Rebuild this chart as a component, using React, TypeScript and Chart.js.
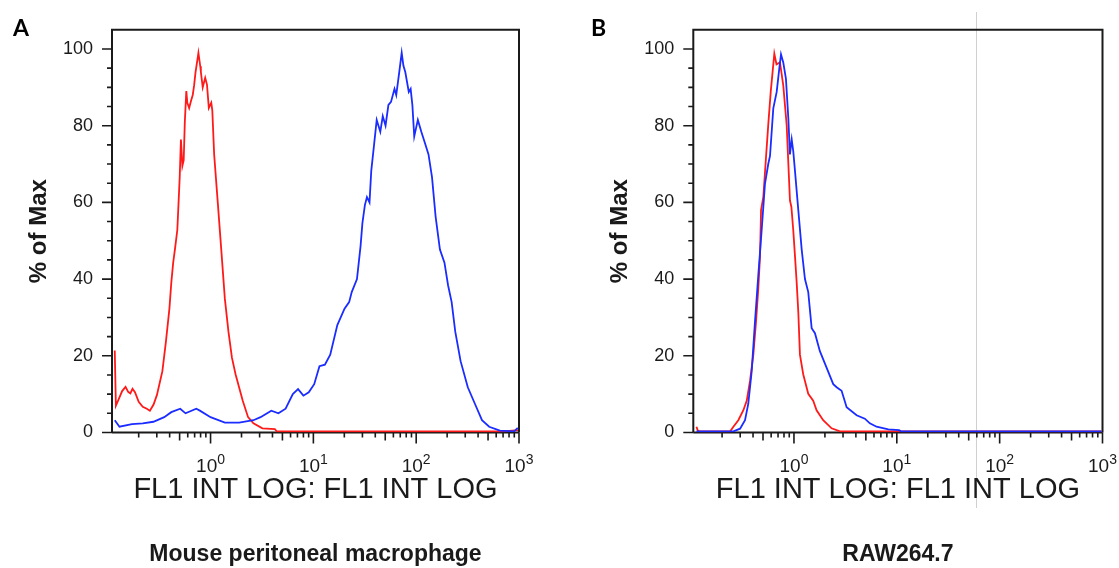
import React, { useEffect, useRef } from "react";
import { Chart, registerables } from "chart.js";

Chart.register(...registerables);

// ---------- Data (FL1 intensity, % of max) ----------
// Panel A – Mouse peritoneal macrophage
const redIntensityA = [0.117, 0.120, 0.127, 0.138, 0.149, 0.158, 0.166, 0.174, 0.184, 0.200, 0.219, 0.240, 0.257, 0.279, 0.301, 0.340, 0.368, 0.398, 0.415, 0.433, 0.450, 0.475, 0.488, 0.501, 0.515, 0.532, 0.548, 0.562, 0.581, 0.594, 0.619, 0.646, 0.671, 0.692, 0.714, 0.762, 0.794, 0.805, 0.839, 0.887, 0.923, 0.962, 1.016, 1.040, 1.084, 1.175, 1.271, 1.377, 1.493, 1.614, 1.750, 2.056, 2.317, 2.612, 3.192, 4.217, 4.395, 708, 977];
const redPercentA = [21.4, 7.0, 8.5, 10.8, 11.9, 10.6, 10.2, 11.4, 10.5, 8.0, 6.7, 6.2, 5.7, 7.3, 9.8, 16.0, 23.7, 32.3, 39.0, 44.3, 47.7, 52.8, 59.7, 66.5, 76.4, 69.5, 71.0, 81.0, 89.0, 86.0, 84.6, 86.5, 88.0, 90.5, 93.9, 99.0, 95.5, 94.0, 90.0, 92.5, 90.7, 84.6, 86.0, 84.0, 72.5, 60.0, 47.7, 34.9, 26.3, 19.5, 15.2, 8.3, 4.0, 2.4, 1.1, 0.9, 0.3, 0.3, 0.6];

const blueIntensityA = [0.117, 0.130, 0.172, 0.219, 0.278, 0.354, 0.415, 0.507, 0.571, 0.726, 0.787, 1.0, 1.377, 1.897, 2.612, 3.062, 3.899, 4.571, 5.370, 6.310, 7.096, 7.998, 9.016, 10.19, 11.46, 12.94, 14.59, 17.10, 20.09, 22.28, 23.61, 26.55, 28.77, 29.99, 31.70, 33.19, 35.16, 36.56, 38.99, 41.30, 44.77, 47.32, 50.35, 53.70, 56.89, 61.52, 63.97, 68.39, 72.28, 75.16, 78.34, 84.72, 88.31, 91.83, 95.72, 103.8, 112.2, 121.6, 131.8, 142.6, 154.5, 170.2, 188.4, 204.2, 221.3, 239.9, 270.4, 317.7, 372.4, 436.5, 512.9, 651.6, 897.5, 972.7];
const bluePercentA = [3.2, 1.5, 2.2, 2.4, 2.8, 4.0, 5.3, 6.2, 5.0, 6.2, 5.7, 4.0, 2.6, 2.6, 3.2, 4.0, 5.7, 5.0, 6.2, 10.0, 11.3, 9.6, 10.5, 12.6, 17.3, 17.7, 20.3, 28.0, 32.3, 34.0, 36.6, 40.0, 48.6, 54.6, 59.3, 61.4, 60.0, 68.2, 75.2, 81.5, 78.4, 82.5, 80.0, 85.4, 86.2, 89.6, 88.0, 93.9, 99.0, 95.6, 94.0, 88.8, 89.6, 85.4, 77.2, 81.5, 78.4, 75.5, 72.5, 66.5, 56.3, 47.7, 44.3, 38.4, 34.0, 26.3, 18.6, 11.8, 7.5, 3.2, 1.5, 0.5, 0.3, 1.2];

// Panel B – RAW264.7
const redIntensityB = [0.1127, 0.1161, 0.1205, 0.2399, 0.2576, 0.2877, 0.3221, 0.3475, 0.3741, 0.4027, 0.4276, 0.4498, 0.4677, 0.4786, 0.5035, 0.5346, 0.5623, 0.5943, 0.6442, 0.6761, 0.7311, 0.7870, 0.8492, 0.9141, 0.9441, 0.9840, 1.023, 1.062, 1.102, 1.143, 1.230, 1.377, 1.538, 1.660, 1.923, 2.323, 2.799, 977];
const redPercentB = [1.5, 0.5, 0.3, 0.3, 1.5, 3.2, 5.8, 8.3, 13.5, 20.3, 28.9, 37.4, 46.0, 58.0, 61.4, 71.7, 80.2, 88.8, 98.8, 96.0, 96.5, 90.5, 80.2, 60.5, 58.8, 52.8, 46.0, 39.2, 31.4, 20.3, 15.2, 10.1, 8.3, 5.8, 3.2, 1.1, 0.3, 0.3];

const blueIntensityB = [0.1127, 0.2576, 0.2992, 0.3342, 0.3597, 0.3882, 0.4178, 0.4498, 0.4853, 0.5224, 0.5623, 0.5848, 0.6295, 0.6792, 0.7194, 0.7482, 0.7870, 0.8356, 0.8810, 0.9141, 0.9506, 0.9840, 1.023, 1.102, 1.189, 1.279, 1.377, 1.486, 1.600, 1.786, 2.075, 2.410, 2.600, 2.904, 3.251, 4.064, 4.887, 5.470, 6.353, 8.279, 10.52, 10.96, 977];
const bluePercentB = [0.3, 0.3, 1.0, 3.2, 7.5, 16.0, 28.9, 40.9, 52.8, 64.8, 70.0, 72.1, 84.5, 88.8, 94.8, 98.6, 96.5, 92.2, 82.0, 72.5, 76.4, 73.4, 68.2, 58.0, 47.7, 40.0, 36.6, 27.2, 25.9, 21.2, 16.9, 12.6, 11.8, 10.9, 6.6, 4.5, 3.6, 2.4, 1.5, 0.8, 0.6, 0.3, 0.3];

// ---------- Axis ticks / labels ----------
const yTickLabels = [0, 20, 40, 60, 80, 100];
const yMinorStep = 5;
const xMajorValues = [1, 10, 100, 1000];
const xTickExponents = ["0", "1", "2", "3"];
const xDecades = [0.1, 1, 10, 100, 1000];
const xMultipliers = [1, 2, 3, 4, 5, 6, 7, 8, 9];

const yAxisTitle = "% of Max";
const xAxisTitle = "FL1 INT LOG: FL1 INT LOG";
const captionA = "Mouse peritoneal macrophage";
const captionB = "RAW264.7";

// ---------- Layout constants ----------
const FONT = "'Liberation Sans', Arial, Helvetica, sans-serif";
const CANVAS_W = 560;
const CANVAS_H = 568;
const PLOT_TOP = 24;
const PLOT_BOTTOM = 432.5;
const CAPTION_SIZE = 23;
const XTITLE_SIZE = 29;
const YTITLE_SIZE = 24;
const INK = "#1a1a1a";
const RED = "#ff1a1a";
const BLUE = "#1a2cff";

type PanelProps = {
  left: number;
  xMin: number;
  plotLeft: number;
  plotRight: number;
  yTitleCenter: number;
  caption: string;
  redX: number[];
  redY: number[];
  blueX: number[];
  blueY: number[];
};

function Panel(p: PanelProps) {
  const ref = useRef<HTMLCanvasElement>(null);

  useEffect(() => {
    if (!ref.current) return;
    const captionBox = CAPTION_SIZE * 1.2;
    const xScaleHeight = CANVAS_H - captionBox - PLOT_BOTTOM;
    const xTitleCenter = 490;
    const xTitlePadBottom = CANVAS_H - captionBox - (XTITLE_SIZE * 1.2) / 2 - xTitleCenter;

    const axesPlugin = {
      id: "flowAxes",
      beforeDatasetsDraw(chart: any) {
        const { ctx, chartArea } = chart;
        const { left, right, top, bottom } = chartArea;
        const x = chart.scales.x;
        const y = chart.scales.y;
        ctx.save();
        ctx.strokeStyle = INK;
        ctx.lineWidth = 2;
        ctx.beginPath();
        ctx.moveTo(left, bottom);
        ctx.lineTo(left, top);
        ctx.lineTo(right, top);
        ctx.lineTo(right, bottom);
        ctx.moveTo(left, bottom);
        ctx.lineTo(right, bottom);
        ctx.stroke();
        ctx.lineWidth = 1.6;
        ctx.beginPath();
        for (let v = 0; v <= 100; v += yMinorStep) {
          const py = y.getPixelForValue(v);
          const len = yTickLabels.includes(v) ? 10 : 5;
          ctx.moveTo(left - len, py);
          ctx.lineTo(left, py);
        }
        for (const d of xDecades) {
          for (const m of xMultipliers) {
            const v = d * m;
            if (v < x.min * 0.999 || v > x.max * 1.001) continue;
            const px = x.getPixelForValue(v);
            const len = m === 1 ? 11 : m === 5 ? 8 : 5;
            ctx.moveTo(px, bottom);
            ctx.lineTo(px, bottom + len);
          }
        }
        ctx.stroke();
        ctx.restore();
      },
      afterDraw(chart: any) {
        const { ctx, chartArea } = chart;
        const x = chart.scales.x;
        const bottom = chartArea.bottom;
        ctx.save();
        ctx.fillStyle = INK;
        ctx.textBaseline = "alphabetic";
        ctx.textAlign = "left";
        xMajorValues.forEach((v, i) => {
          const px = x.getPixelForValue(v);
          ctx.font = `19px ${FONT}`;
          const wb = ctx.measureText("10").width;
          ctx.font = `14px ${FONT}`;
          const we = ctx.measureText(xTickExponents[i]).width;
          const start = px - (wb + we) / 2;
          ctx.font = `19px ${FONT}`;
          ctx.fillText("10", start, bottom + 39.5);
          ctx.font = `14px ${FONT}`;
          ctx.fillText(xTickExponents[i], start + wb, bottom + 31);
        });
        ctx.restore();
      },
    };

    const chart = new Chart(ref.current, {
      type: "line",
      data: {
        datasets: [
          {
            label: "stained",
            data: p.blueX.map((v, i) => ({ x: v, y: p.blueY[i] })),
            borderColor: BLUE,
            borderWidth: 1.8,
            pointRadius: 0,
            tension: 0,
            fill: false,
          },
          {
            label: "control",
            data: p.redX.map((v, i) => ({ x: v, y: p.redY[i] })),
            borderColor: RED,
            borderWidth: 1.8,
            pointRadius: 0,
            tension: 0,
            fill: false,
          },
        ],
      },
      plugins: [axesPlugin],
      options: {
        animation: false,
        responsive: false,
        maintainAspectRatio: false,
        devicePixelRatio: 1,
        layout: {
          padding: { left: 0, right: CANVAS_W - p.plotRight, top: PLOT_TOP, bottom: 0 },
        },
        plugins: {
          legend: { display: false },
          tooltip: { enabled: false },
          title: {
            display: true,
            text: p.caption,
            position: "bottom",
            fullSize: false,
            color: INK,
            font: { family: FONT, size: CAPTION_SIZE, weight: "bold" },
            padding: { top: 0, bottom: 0 },
          },
        },
        scales: {
          x: {
            type: "logarithmic",
            min: p.xMin,
            max: 1000,
            grid: { display: false, drawTicks: false },
            border: { display: false },
            ticks: { display: false },
            afterBuildTicks: (scale: any) => {
              scale.ticks = xMajorValues.map((v) => ({ value: v }));
            },
            afterFit: (scale: any) => {
              scale.height = xScaleHeight;
            },
            title: {
              display: true,
              text: xAxisTitle,
              color: INK,
              font: { family: FONT, size: XTITLE_SIZE },
              padding: { top: 0, bottom: xTitlePadBottom },
            },
          },
          y: {
            type: "linear",
            min: 0,
            max: 105,
            grid: { display: false, drawTicks: false },
            border: { display: false },
            afterBuildTicks: (scale: any) => {
              scale.ticks = yTickLabels.map((v) => ({ value: v }));
            },
            afterFit: (scale: any) => {
              scale.width = p.plotLeft;
            },
            ticks: {
              color: INK,
              padding: 19,
              font: { family: FONT, size: 18 },
            },
            title: {
              display: true,
              text: yAxisTitle,
              color: INK,
              font: { family: FONT, size: YTITLE_SIZE, weight: "bold" },
              padding: { top: p.yTitleCenter - (YTITLE_SIZE * 1.2) / 2, bottom: 0 },
            },
          },
        },
      } as any,
    });
    return () => chart.destroy();
  }, []);

  return (
    <canvas
      ref={ref}
      width={CANVAS_W}
      height={CANVAS_H}
      style={{ position: "absolute", left: p.left, top: 0, width: CANVAS_W, height: CANVAS_H }}
    />
  );
}

export default function App() {
  const letter = {
    position: "absolute" as const,
    top: 16,
    font: "bold 23px Lato, 'Liberation Sans', sans-serif",
    lineHeight: "23px",
    color: "#000",
  };
  return (
    <div
      style={{
        position: "absolute",
        left: 0,
        top: 0,
        width: 1119,
        height: 568,
        background: "#fff",
        overflow: "hidden",
      }}
    >
      <div style={{ position: "absolute", left: 976, top: 12, width: 1, height: 496, background: "#d0d0d0" }} />
      <Panel
        left={0}
        xMin={0.11}
        plotLeft={112}
        plotRight={519}
        yTitleCenter={39}
        caption={captionA}
        redX={redIntensityA}
        redY={redPercentA}
        blueX={blueIntensityA}
        blueY={bluePercentA}
      />
      <Panel
        left={559}
        xMin={0.105}
        plotLeft={134.3}
        plotRight={543.5}
        yTitleCenter={61.7}
        caption={captionB}
        redX={redIntensityB}
        redY={redPercentB}
        blueX={blueIntensityB}
        blueY={bluePercentB}
      />
      <div style={{ ...letter, left: 13 }}>A</div>
      <div style={{ ...letter, left: 591 }}>B</div>
    </div>
  );
}
